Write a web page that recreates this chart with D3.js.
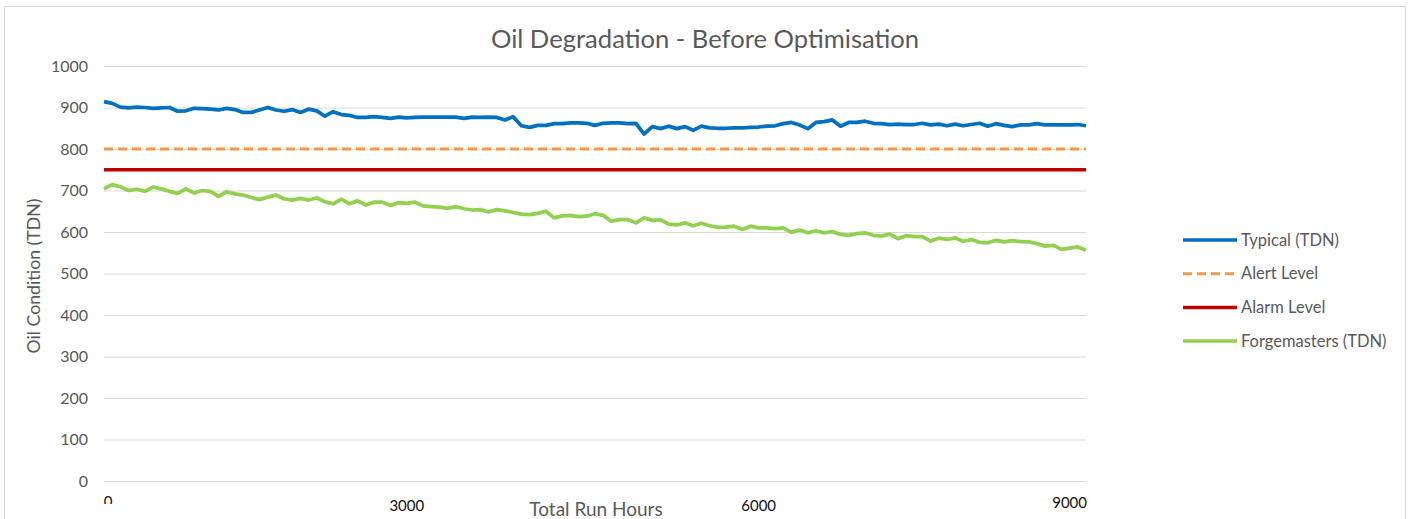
<!DOCTYPE html>
<html>
<head>
<meta charset="utf-8">
<script src="https://cdn.jsdelivr.net/npm/d3@7"></script>
<style>
  body { margin: 0; background: #fff; }
  text { font-family: Lato, "Open Sans", sans-serif; }
</style>
</head>
<body>
<div id="chart"></div>
<script>
// Data: one sample per category step
let typical = [914,910,901,899,901,900,898,899,900,891,892,898,897,896,894,898,895,888,888,894,
  900,894,891,895,888,896,892,879,890,883,881,876,876,878,876,874,877,875,876,877,
  877,877,877,877,874,877,876,877,876,870,878,856,852,857,857,861,861,863,863,862,
  857,862,863,863,861,862,836,854,849,855,849,854,845,855,851,850,850,851,851,852,
  853,855,856,861,864,858,849,864,866,870,855,864,864,867,862,861,859,860,859,859,
  862,858,860,856,860,856,859,862,855,861,857,854,858,858,861,858,858,858,858,859,856];

let forgemasters = [704,714,709,700,703,698,708,704,698,693,704,694,700,698,686,697,692,689,683,678,
  684,689,680,677,681,677,682,673,668,679,668,675,665,672,672,664,671,669,672,663,
  661,660,657,661,656,653,654,648,654,651,647,643,642,645,650,634,639,640,637,638,
  644,640,626,630,630,622,634,628,630,619,617,622,615,621,615,611,612,614,606,614,
  610,610,608,610,599,605,598,603,598,601,594,592,596,598,592,590,595,584,591,589,
  589,578,585,582,586,577,582,575,574,580,576,579,577,576,572,566,568,558,561,564,556];

let alertLevel = 800;
let alarmLevel = 750;

let yTicks = [0,100,200,300,400,500,600,700,800,900,1000];
let xLabels = ["0","3000","6000","9000"];
let xLabelIdx = [0,37,80,118];

let seriesNames = ["Typical (TDN)","Alert Level","Alarm Level","Forgemasters (TDN)"];
let seriesColors = ["#0070C0","#F79646","#C00000","#92D050"];

// Layout
let svgWidth = 1413;
let svgHeight = 519;
let plot = {left: 104, right: 1086, top: 66, bottom: 481};
let xLabelY = [507, 511, 511, 508];

let svg = d3.select("#chart")
  .append("svg")
  .attr("width", svgWidth)
  .attr("height", svgHeight);

svg.append("rect")
  .attr("width", svgWidth)
  .attr("height", svgHeight)
  .attr("fill", "#fff");

// chart border
svg.append("rect")
  .attr("x", 4.5)
  .attr("y", 6.5)
  .attr("width", 1401)
  .attr("height", 540)
  .attr("fill", "none")
  .attr("stroke", "#d9d9d9");

let n = typical.length;
let x = d3.scaleLinear().domain([0, n - 1]).range([plot.left, plot.right]);
let y = d3.scaleLinear().domain([0, 1000]).range([plot.bottom, plot.top]);

// gridlines + y labels
let yAxis = d3.axisLeft(y)
  .tickValues(yTicks)
  .tickSize(-(plot.right - plot.left))
  .tickPadding(16)
  .tickFormat(d3.format("d"));

let gy = svg.append("g")
  .attr("transform", `translate(${plot.left}, 0)`)
  .call(yAxis);
gy.select(".domain").remove();
gy.selectAll(".tick line").attr("stroke", "#d9d9d9").attr("stroke-width", 1);
gy.selectAll(".tick text")
  .attr("fill", "#595959")
  .style("font-size", "16px");

// x labels (category axis)
svg.append("clipPath").attr("id", "xclip")
  .append("rect").attr("x", 0).attr("y", 0).attr("width", svgWidth).attr("height", 504);

svg.append("g").selectAll("text")
  .data(xLabels)
  .enter()
  .append("text")
  .attr("x", (d, i) => x(xLabelIdx[i]) + (i == 0 ? 4 : 0))
  .attr("y", (d, i) => xLabelY[i])
  .attr("text-anchor", "middle")
  .attr("clip-path", (d, i) => i == 0 ? "url(#xclip)" : null)
  .attr("fill", "#111")
  .style("font-size", "15px")
  .text(d => d);

// lines
let line = d3.line()
  .x((d, i) => x(i))
  .y(d => y(d));

let flat = v => [[0, v], [n - 1, v]];

svg.append("path")
  .attr("d", d3.line().x(d => x(d[0])).y(d => y(d[1]))(flat(alertLevel)))
  .attr("fill", "none")
  .attr("stroke", seriesColors[1])
  .attr("stroke-width", 3)
  .attr("stroke-dasharray", "9,5");

svg.append("path")
  .attr("d", d3.line().x(d => x(d[0])).y(d => y(d[1]))(flat(alarmLevel)))
  .attr("fill", "none")
  .attr("stroke", seriesColors[2])
  .attr("stroke-width", 3.5);

svg.append("path")
  .datum(typical)
  .attr("d", line)
  .attr("fill", "none")
  .attr("stroke", seriesColors[0])
  .attr("stroke-width", 3.75)
  .attr("stroke-linejoin", "round");

svg.append("path")
  .datum(forgemasters)
  .attr("d", line)
  .attr("fill", "none")
  .attr("stroke", seriesColors[3])
  .attr("stroke-width", 3.75)
  .attr("stroke-linejoin", "round");

// title
svg.append("text")
  .attr("x", 705)
  .attr("y", 48)
  .attr("text-anchor", "middle")
  .attr("fill", "#595959")
  .style("font-size", "25.6px")
  .text("Oil Degradation - Before Optimisation");

// axis titles
svg.append("text")
  .attr("transform", "translate(40, 276) rotate(-90)")
  .attr("text-anchor", "middle")
  .attr("fill", "#595959")
  .style("font-size", "17.7px")
  .text("Oil Condition (TDN)");

svg.append("text")
  .attr("x", 596)
  .attr("y", 516)
  .attr("text-anchor", "middle")
  .attr("fill", "#595959")
  .style("font-size", "19px")
  .text("Total Run Hours");

// legend
let legend = svg.append("g").attr("transform", "translate(1183, 240)");
let rows = legend.selectAll("g")
  .data(seriesNames)
  .enter()
  .append("g")
  .attr("transform", (d, i) => `translate(0, ${i * 33.7})`);

rows.append("line")
  .attr("x1", 0).attr("x2", 54)
  .attr("stroke", (d, i) => seriesColors[i])
  .attr("stroke-width", (d, i) => i == 1 ? 3 : 3.5)
  .attr("stroke-dasharray", (d, i) => i == 1 ? "9,5" : null);

rows.append("text")
  .attr("x", 58)
  .attr("dy", "0.35em")
  .attr("fill", "#595959")
  .style("font-size", "16.5px")
  .text(d => d);
</script>
</body>
</html>
